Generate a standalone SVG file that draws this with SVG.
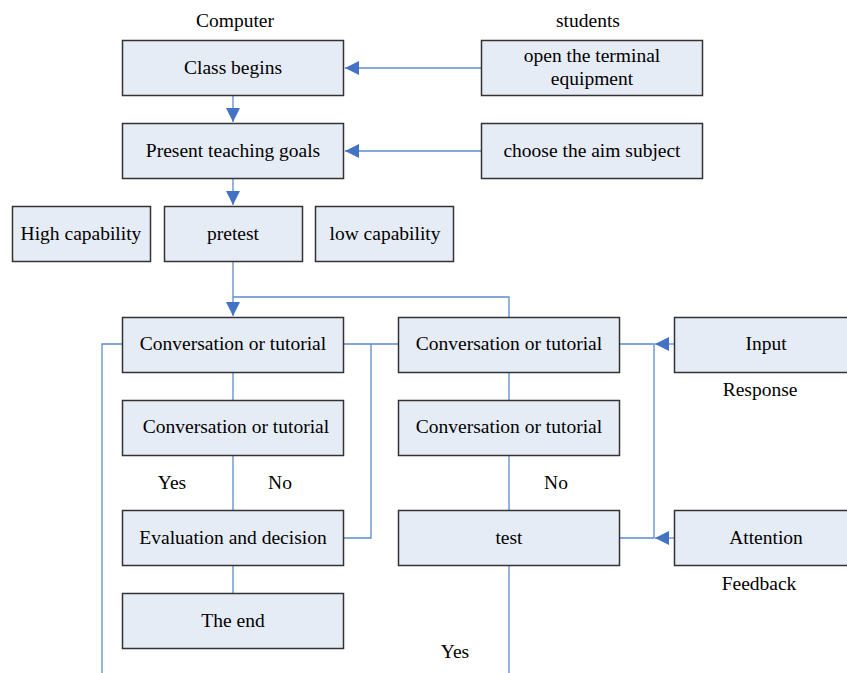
<svg xmlns="http://www.w3.org/2000/svg" width="847" height="673" viewBox="0 0 847 673">
<defs>
<style>
.b{fill:#E6ECF6;stroke:#333;stroke-width:1.5}
.t{font-family:"Liberation Serif","Times New Roman","DejaVu Serif",serif;font-size:19.5px;fill:#000;text-anchor:middle}
.c{fill:none;stroke:#5B8BD0;stroke-width:1.3}
</style>
<marker id="ar" viewBox="0 0 10 10" refX="10" refY="5" markerWidth="14" markerHeight="14" markerUnits="userSpaceOnUse" orient="auto">
<path d="M0,0 L10,5 L0,10 z" fill="#4472C4"/>
</marker>
</defs>
<rect width="847" height="673" fill="#fff"/>
<g id="connectors">
<path class="c" d="M481,68 H345" marker-end="url(#ar)"/>
<path class="c" d="M481,151 H345" marker-end="url(#ar)"/>
<path class="c" d="M233,96 V122" marker-end="url(#ar)"/>
<path class="c" d="M233,179 V205" marker-end="url(#ar)"/>
<path class="c" d="M233,262 V316" marker-end="url(#ar)"/>
<path class="c" d="M233,297 H509 V317"/>
<path class="c" d="M233,372 V400 M233,455 V510 M233,566 V593"/>
<path class="c" d="M509,372 V400 M509,455 V510 M509,566 V673"/>
<path class="c" d="M343,344 H398 M371,344 V538 H343"/>
<path class="c" d="M122,344 H102 V673"/>
<path class="c" d="M620,344 H654 V538 H620"/>
<path class="c" d="M674,344 H655" marker-end="url(#ar)"/>
<path class="c" d="M674,538 H655" marker-end="url(#ar)"/>
</g>
<g font-family="Liberation Serif, serif">
<text class="t" x="235" y="27">Computer</text>
<text class="t" x="588" y="27">students</text>
<g id="class-begins"><rect class="b" x="122.5" y="40.5" width="221" height="55"/><text class="t" x="233" y="74">Class begins</text></g>
<g id="open-terminal"><rect class="b" x="481.5" y="40.5" width="221" height="55"/><text class="t" x="592" y="62">open the terminal</text><text class="t" x="592" y="85">equipment</text></g>
<g id="present-goals"><rect class="b" x="122.5" y="123.5" width="221" height="55"/><text class="t" x="233" y="157">Present teaching goals</text></g>
<g id="choose-aim"><rect class="b" x="481.5" y="123.5" width="221" height="55"/><text class="t" x="592" y="157">choose the aim subject</text></g>
<g id="high-capability"><rect class="b" x="12.5" y="206.5" width="138" height="55"/><text class="t" x="81" y="240">High capability</text></g>
<g id="pretest"><rect class="b" x="164.5" y="206.5" width="138" height="55"/><text class="t" x="233" y="240">pretest</text></g>
<g id="low-capability"><rect class="b" x="315.5" y="206.5" width="138" height="55"/><text class="t" x="385" y="240">low capability</text></g>
<g id="conv-1"><rect class="b" x="122.5" y="317.5" width="221" height="55"/><text class="t" x="233" y="350">Conversation or tutorial</text></g>
<g id="conv-2"><rect class="b" x="398.5" y="317.5" width="221" height="55"/><text class="t" x="509" y="350">Conversation or tutorial</text></g>
<g id="input"><rect class="b" x="674.5" y="317.5" width="185" height="55"/><text class="t" x="766" y="350">Input</text></g>
<text class="t" x="760" y="396">Response</text>
<g id="conv-3"><rect class="b" x="122.5" y="400.5" width="221" height="55"/><text class="t" x="236" y="433">Conversation or tutorial</text></g>
<g id="conv-4"><rect class="b" x="398.5" y="400.5" width="221" height="55"/><text class="t" x="509" y="433">Conversation or tutorial</text></g>
<text class="t" x="172" y="489">Yes</text>
<text class="t" x="280" y="489">No</text>
<text class="t" x="556" y="489">No</text>
<g id="evaluation"><rect class="b" x="122.5" y="510.5" width="221" height="55"/><text class="t" x="233" y="544">Evaluation and decision</text></g>
<g id="test"><rect class="b" x="398.5" y="510.5" width="221" height="55"/><text class="t" x="509" y="544">test</text></g>
<g id="attention"><rect class="b" x="674.5" y="510.5" width="185" height="55"/><text class="t" x="766" y="544">Attention</text></g>
<text class="t" x="759" y="590">Feedback</text>
<g id="the-end"><rect class="b" x="122.5" y="593.5" width="221" height="55"/><text class="t" x="233" y="627">The end</text></g>
<text class="t" x="455" y="658">Yes</text>
</g>
</svg>
